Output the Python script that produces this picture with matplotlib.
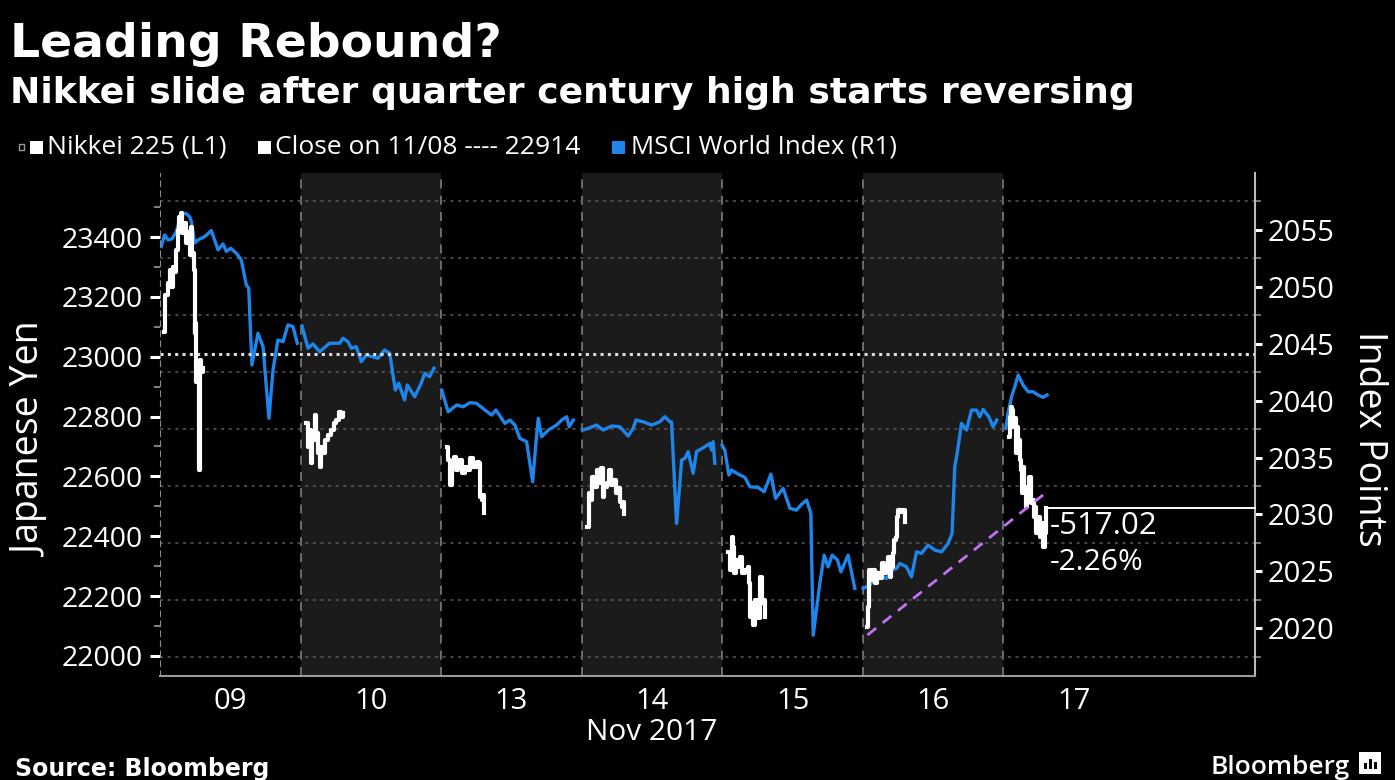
import numpy as np
import matplotlib.pyplot as plt
from matplotlib.patches import Rectangle
from matplotlib.transforms import blended_transform_factory

plt.rcParams['font.family'] = ['Open Sans', 'DejaVu Sans']

W, H = 1395, 780

# x axis: one unit per trading day (09, 10, 13, 14, 15, 16, 17 Nov 2017)
day_labels = ['09', '10', '13', '14', '15', '16', '17']
shaded_days = [1, 3, 5]

# Nikkei 225 (left axis, yen), one list per trading day
nikkei_t = [
    [0.032, 0.038, 0.057, 0.069, 0.080, 0.092, 0.105, 0.116, 0.128, 0.135, 0.147, 0.156, 0.176, 0.187,
     0.199, 0.211, 0.223, 0.230, 0.240, 0.247, 0.251, 0.258, 0.265, 0.275, 0.282, 0.294, 0.306],
    [1.041, 1.053, 1.065, 1.072, 1.083, 1.100, 1.112, 1.124, 1.136, 1.147, 1.159, 1.171, 1.195, 1.218,
     1.238, 1.254, 1.271, 1.289, 1.302],
    [2.039, 2.050, 2.063, 2.075, 2.091, 2.105, 2.122, 2.146, 2.169, 2.193, 2.205, 2.228, 2.252, 2.271,
     2.276, 2.288, 2.299, 2.307],
    [3.039, 3.051, 3.063, 3.075, 3.089, 3.106, 3.122, 3.134, 3.149, 3.160, 3.177, 3.193, 3.208, 3.224,
     3.241, 3.260, 3.272, 3.284, 3.295, 3.302],
    [4.042, 4.054, 4.066, 4.078, 4.085, 4.095, 4.113, 4.125, 4.137, 4.161, 4.184, 4.191, 4.196, 4.208,
     4.220, 4.232, 4.244, 4.255, 4.267, 4.280, 4.291, 4.303],
    [5.033, 5.038, 5.045, 5.057, 5.073, 5.085, 5.102, 5.121, 5.133, 5.151, 5.168, 5.180, 5.192, 5.204,
     5.215, 5.223, 5.233, 5.242, 5.251, 5.270, 5.287, 5.299],
    [6.040, 6.050, 6.055, 6.060, 6.069, 6.079, 6.088, 6.097, 6.107, 6.117, 6.124, 6.131, 6.140, 6.150,
     6.159, 6.169, 6.183, 6.193, 6.207, 6.216, 6.226, 6.235, 6.247, 6.259, 6.271, 6.282, 6.294, 6.305],
]
nikkei_v = [
    [23083, 23206, 23245, 23290, 23234, 23301, 23284, 23356, 23423, 23468, 23479, 23412, 23446, 23379,
     23418, 23340, 23434, 23345, 23290, 23078, 23112, 22916, 22978, 22621, 22989, 22950, 22962],
    [22777, 22699, 22755, 22644, 22722, 22805, 22744, 22677, 22632, 22699, 22677, 22722, 22738, 22755,
     22777, 22788, 22816, 22800, 22811],
    [22699, 22655, 22571, 22632, 22666, 22621, 22655, 22610, 22632, 22621, 22661, 22632, 22649, 22644,
     22532, 22521, 22538, 22477],
    [22432, 22544, 22521, 22599, 22566, 22621, 22577, 22627, 22532, 22566, 22577, 22621, 22571, 22588,
     22544, 22560, 22516, 22499, 22516, 22474],
    [22348, 22287, 22399, 22365, 22276, 22321, 22298, 22332, 22276, 22287, 22298, 22243, 22131, 22176,
     22104, 22187, 22154, 22126, 22265, 22176, 22187, 22131],
    [22098, 22165, 22287, 22254, 22287, 22243, 22276, 22260, 22310, 22276, 22298, 22332, 22265, 22298,
     22343, 22388, 22399, 22465, 22488, 22482, 22488, 22449],
    [22733, 22800, 22833, 22822, 22766, 22794, 22677, 22766, 22722, 22655, 22621, 22544, 22632, 22566,
     22499, 22544, 22599, 22510, 22521, 22465, 22499, 22410, 22465, 22399, 22443, 22365, 22410, 22496],
]

# MSCI World Index (right axis, index points)
msci_t = [
    [0.009, 0.033, 0.057, 0.085, 0.116, 0.140, 0.164, 0.187, 0.211, 0.223, 0.247, 0.270, 0.318, 0.365,
     0.413, 0.448, 0.472, 0.503, 0.543, 0.578, 0.614, 0.631, 0.654, 0.697, 0.733, 0.775, 0.804, 0.839,
     0.875, 0.910, 0.946, 0.977],
    [1.010, 1.053, 1.088, 1.136, 1.207, 1.278, 1.302, 1.337, 1.361, 1.396, 1.432, 1.467, 1.550, 1.598,
     1.634, 1.674, 1.698, 1.740, 1.759, 1.812, 1.858, 1.883, 1.918, 1.949],
    [2.004, 2.050, 2.110, 2.157, 2.205, 2.252, 2.312, 2.359, 2.390, 2.454, 2.489, 2.525, 2.560, 2.608,
     2.651, 2.674, 2.691, 2.715, 2.762, 2.821, 2.857, 2.893, 2.911, 2.940],
    [3.006, 3.046, 3.106, 3.153, 3.213, 3.272, 3.331, 3.366, 3.386, 3.437, 3.497, 3.556, 3.592, 3.627,
     3.639, 3.675, 3.711, 3.734, 3.757, 3.793, 3.817, 3.876, 3.912, 3.924, 3.935, 3.947],
    [3.999, 4.018, 4.047, 4.066, 4.113, 4.161, 4.196, 4.255, 4.298, 4.346, 4.379, 4.433, 4.481, 4.528,
     4.559, 4.600, 4.630, 4.647, 4.694, 4.725, 4.753, 4.782, 4.820, 4.844, 4.895, 4.943],
    [5.002, 5.050, 5.109, 5.169, 5.204, 5.240, 5.263, 5.311, 5.346, 5.382, 5.417, 5.464, 5.512, 5.560,
     5.607, 5.635, 5.654, 5.673, 5.702, 5.738, 5.773, 5.809, 5.832, 5.856, 5.896, 5.927, 5.953],
    [6.017, 6.033, 6.058, 6.081, 6.105, 6.140, 6.176, 6.211, 6.247, 6.282, 6.311],
]
msci_v = [
    [2053.54, 2054.56, 2054.12, 2054.21, 2054.85, 2055.88, 2056.47, 2056.41, 2056.17, 2055.73, 2053.86,
     2054.12, 2054.41, 2054.94, 2053.24, 2053.77, 2053.10, 2053.39, 2052.95, 2052.37, 2050.17, 2049.88,
     2043.13, 2045.92, 2044.74, 2038.44, 2042.69, 2045.33, 2045.18, 2046.65, 2046.50, 2045.04],
    [2046.56, 2044.60, 2044.98, 2044.30, 2045.04, 2045.04, 2045.48, 2045.18, 2044.60, 2044.74, 2043.42,
     2044.01, 2043.72, 2044.45, 2044.16, 2040.93, 2041.52, 2040.05, 2041.37, 2040.34, 2041.52, 2042.40,
     2042.10, 2042.84],
    [2040.93, 2039.02, 2039.61, 2039.46, 2039.82, 2039.76, 2039.17, 2038.73, 2039.17, 2038.00, 2038.29,
     2037.85, 2036.68, 2036.39, 2032.87, 2036.24, 2038.44, 2036.82, 2037.41, 2037.85, 2038.29, 2038.58,
     2037.70, 2038.29],
    [2037.41, 2037.56, 2037.85, 2037.41, 2037.77, 2037.70, 2036.89, 2037.56, 2038.29, 2038.14, 2037.85,
     2038.14, 2038.58, 2038.14, 2038.14, 2029.21, 2034.78, 2034.92, 2035.51, 2033.61, 2035.51, 2035.95,
     2036.24, 2035.65, 2036.39, 2034.49],
    [2036.09, 2035.65, 2033.46, 2033.90, 2033.54, 2033.25, 2032.43, 2032.37, 2031.99, 2033.54, 2031.41,
     2032.29, 2030.53, 2030.38, 2030.82, 2031.26, 2030.09, 2019.38, 2023.93, 2026.42, 2025.39, 2026.42,
     2025.98, 2024.95, 2026.42, 2023.49],
    [2023.49, 2023.78, 2024.66, 2024.37, 2025.10, 2025.25, 2025.69, 2025.39, 2024.51, 2026.71, 2026.57,
     2027.30, 2026.86, 2026.71, 2027.45, 2028.33, 2034.19, 2035.51, 2038.00, 2037.41, 2039.17, 2039.17,
     2038.58, 2039.23, 2038.58, 2037.70, 2038.29],
    [2037.56, 2038.88, 2040.34, 2041.22, 2042.25, 2041.37, 2040.78, 2040.78, 2040.49, 2040.29, 2040.49],
]

close_level = 23010        # dotted "Close on 11/08" line, where it is drawn
close_label = 22914
trend_t = [5.033, 6.282]   # purple dashed trend line
trend_v = [22070, 22538]
change_abs = '-517.02'
change_pct = '-2.26%'

left_ticks = [22000, 22200, 22400, 22600, 22800, 23000, 23200, 23400]
right_ticks = [2020, 2025, 2030, 2035, 2040, 2045, 2050, 2055]

BLUE = '#1e86ea'
GRID = '#5a5a5a'
SHADE = '#1b1b1b'

fig = plt.figure(figsize=(W / 100, H / 100), dpi=100, facecolor='black')
rect = [160 / W, 1 - 676 / H, (1255 - 160) / W, (676 - 173) / H]
ax1 = fig.add_axes(rect)
ax2 = ax1.twinx()
ax2.set_zorder(0)
ax1.set_zorder(1)
ax1.patch.set_visible(False)
ax2.set_facecolor('black')

xmax = 7.79

# background: shaded days, day separators, dotted grid
for d in shaded_days:
    ax2.axvspan(d, d + 1, color=SHADE, lw=0, zorder=0)
for d in range(1, 7):
    ax2.axvline(d, color='#747474', lw=1.3, ls=(0, (5, 4)), zorder=1)
for g in np.arange(2017.5, 2060, 5):
    ax2.axhline(g, color=GRID, lw=1.1, ls=(0, (2, 3)), zorder=1)

for t, v in zip(msci_t, msci_v):
    ax2.plot(t, v, color=BLUE, lw=2.4, zorder=3)

ax1.axhline(close_level, color='#dddddd', lw=2.2, ls=(0, (1, 1.4)), zorder=2)
for t, v in zip(nikkei_t, nikkei_v):
    ax1.plot(t, v, color='white', lw=3.0, drawstyle='steps-post', zorder=4)
ax1.plot(trend_t, trend_v, color='#c273f2', lw=2, ls=(0, (4, 3)), zorder=5)
last_t, last_v = nikkei_t[-1][-1], nikkei_v[-1][-1]
ax1.plot([last_t, xmax], [last_v, last_v], color='white', lw=1.4, zorder=4, clip_on=False)

# spines
for s in ['top', 'right']:
    ax1.spines[s].set_visible(False)
for s in ['top', 'left', 'bottom']:
    ax2.spines[s].set_visible(False)
ax1.spines['left'].set_color('#8a8a8a')
ax1.spines['left'].set_linestyle((0, (5, 4)))
ax1.spines['bottom'].set_color('#9a9a9a')
ax1.spines['bottom'].set_linewidth(1.5)
ax2.spines['right'].set_color('#bbbbbb')
ax2.spines['right'].set_linewidth(1.5)

ax1.set_yticks(left_ticks)
ax1.set_yticklabels([str(v) for v in left_ticks])
ax1.set_yticks([v + 100 for v in left_ticks], minor=True)
ax1.tick_params(axis='y', which='major', colors='white', labelsize=20.5, length=7, width=2.2, pad=5)
ax1.tick_params(axis='y', which='minor', colors='#999999', length=4, width=1.2)
ax2.set_yticks(right_ticks)
ax2.set_yticklabels([str(v) for v in right_ticks])
ax2.set_yticks([v + 2.5 for v in right_ticks] + [2017.5], minor=True)
ax2.tick_params(axis='y', which='major', colors='white', labelsize=21, length=5, width=2.2, pad=4)
ax2.tick_params(axis='y', which='minor', colors='#888888', length=4, width=1.2)

ax1.set_xticks([i + 0.5 for i in range(len(day_labels))])
ax1.set_xticklabels(day_labels)
ax1.tick_params(axis='x', colors='white', labelsize=21, length=0, pad=8)

# limits last, so tick setting cannot widen them
ax1.set_xlim(0, xmax)
ax1.set_ylim(21933, 23614)
ax2.set_ylim(2015.8, 2060.0)

trans = blended_transform_factory(ax1.transData, fig.transFigure)
ax1.text(3.5, 1 - 732 / H, 'Nov 2017', transform=trans, color='white', fontsize=21.5,
         ha='center', va='center')

fig.text(31 / W, 1 - 440 / H, 'Japanese Yen', rotation=90, color='white', fontsize=27,
         ha='center', va='center')
fig.text(1369 / W, 1 - 439 / H, 'Index Points', rotation=270, color='white', fontsize=27,
         ha='center', va='center')

# change annotation next to last price
fig.text(1050 / W, 1 - 526 / H, change_abs, color='white', fontsize=22.5, ha='left', va='center')
fig.text(1050 / W, 1 - 563 / H, change_pct, color='white', fontsize=21.5, ha='left', va='center')

# titles
fig.text(10 / W, 1 - 57 / H, 'Leading Rebound?', color='white', fontsize=34, fontweight='bold',
         family='DejaVu Sans', ha='left', va='baseline')
fig.text(10 / W, 1 - 103 / H, 'Nikkei slide after quarter century high starts reversing',
         color='white', fontsize=26, fontweight='bold', family='DejaVu Sans',
         ha='left', va='baseline')

# legend row
legend_y = 147
def square(x, color):
    fig.add_artist(Rectangle((x / W, 1 - (legend_y + 7) / H), 13 / W, 13 / H,
                             transform=fig.transFigure, color=color, lw=0))

fig.add_artist(Rectangle((19 / W, 1 - (legend_y + 3) / H), 5 / W, 6 / H, transform=fig.transFigure,
                         fill=False, ec='#999999', lw=1))
square(30, 'white')
fig.text(47 / W, 1 - legend_y / H, 'Nikkei 225 (L1)', color='white', fontsize=19, va='center')
square(258, 'white')
fig.text(275 / W, 1 - legend_y / H, 'Close on 11/08 ---- %d' % close_label, color='white',
         fontsize=19, va='center')
square(612, BLUE)
fig.text(631 / W, 1 - legend_y / H, 'MSCI World Index (R1)', color='white', fontsize=18.5, va='center')

# footer
fig.text(15 / W, 1 - 776 / H, 'Source: Bloomberg', color='white', fontsize=17, fontweight='bold',
         family='DejaVu Sans', ha='left', va='baseline')
fig.text(1350 / W, 1 - 774 / H, 'Bloomberg', color='white', fontsize=19, fontweight='semibold',
         ha='right', va='baseline')
fig.add_artist(Rectangle((1359 / W, 1 - 774 / H), 22 / W, 22 / H, transform=fig.transFigure,
                         color='white', lw=0))
for bx, bh in [(1364, 6), (1369, 10), (1374, 7)]:
    fig.add_artist(Rectangle((bx / W, 1 - 769 / H), 2.5 / W, bh / H, transform=fig.transFigure,
                             color='black', lw=0))

fig.savefig('out.png', dpi=100, facecolor='black')
